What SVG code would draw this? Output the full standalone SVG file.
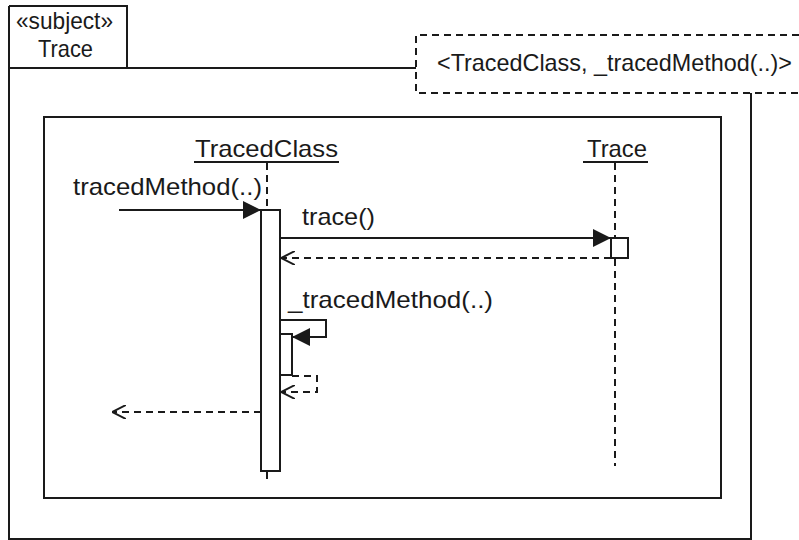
<svg xmlns="http://www.w3.org/2000/svg" width="799" height="540" viewBox="0 0 799 540">
  <style>
    .ln { fill: none; stroke: #1a1a1a; stroke-width: 2; }
    .dash { fill: none; stroke: #1a1a1a; stroke-width: 2; stroke-dasharray: 7 5; }
    .box { fill: #ffffff; stroke: #1a1a1a; stroke-width: 2; }
    .txt { font-family: "Liberation Sans", Arial, sans-serif; font-size: 24px; fill: #1a1a1a; }
  </style>
  <defs>
    <!-- synchronous call: filled triangle -->
    <marker id="filled" viewBox="0 0 10 10" refX="10" refY="5" markerWidth="18" markerHeight="18" markerUnits="userSpaceOnUse" orient="auto">
      <path d="M0,0 L10,5 L0,10 Z" fill="#1a1a1a"/>
    </marker>
    <!-- reply: open chevron -->
    <marker id="open" viewBox="0 0 10 10" refX="10" refY="5" markerWidth="14" markerHeight="14" markerUnits="userSpaceOnUse" orient="auto">
      <path d="M0,0 L10,5 L0,10" fill="none" stroke="#1a1a1a" stroke-width="1.4"/>
    </marker>
  </defs>

  <rect width="799" height="540" fill="#ffffff"/>

  <!-- package frame with name tab -->
  <g id="package-trace">
    <path class="ln" d="M9,6 H127 V68"/>
    <path class="ln" d="M9,6 V539 H751 V93"/>
    <path class="ln" d="M9,68 H416"/>
    <text class="txt" x="16" y="29" textLength="97" lengthAdjust="spacingAndGlyphs" font-size="21">«subject»</text>
    <text class="txt" x="38" y="57" textLength="55" lengthAdjust="spacingAndGlyphs">Trace</text>
  </g>

  <!-- template parameter box -->
  <g id="template-params">
    <path class="dash" d="M799,35 H416 V93 H799"/>
    <text class="txt" x="437" y="71" textLength="355" lengthAdjust="spacingAndGlyphs">&lt;TracedClass, _tracedMethod(..)&gt;</text>
  </g>

  <!-- interaction frame -->
  <g id="interaction">
    <rect class="ln" x="44" y="117" width="677" height="381"/>
  </g>

  <!-- lifeline TracedClass -->
  <g id="lifeline-tracedclass">
    <text class="txt" x="195" y="157" textLength="143" lengthAdjust="spacingAndGlyphs">TracedClass</text>
    <line class="ln" x1="194" y1="162" x2="339" y2="162"/>
    <line class="dash" x1="267" y1="163" x2="267" y2="210"/>
    <line class="dash" x1="267" y1="472" x2="267" y2="483"/>
    <rect class="box" x="261" y="210" width="19" height="261"/>
    <rect class="box" x="280" y="334" width="12" height="41"/>
  </g>

  <!-- lifeline Trace -->
  <g id="lifeline-trace">
    <text class="txt" x="587" y="157" textLength="60" lengthAdjust="spacingAndGlyphs">Trace</text>
    <line class="ln" x1="583" y1="162" x2="648" y2="162"/>
    <line class="dash" x1="615" y1="163" x2="615" y2="466"/>
    <rect class="box" x="611" y="238" width="17" height="20"/>
  </g>

  <!-- messages -->
  <g id="connectors">
    <line class="ln" x1="119" y1="210" x2="261" y2="210" marker-end="url(#filled)"/>
    <line class="ln" x1="280" y1="238" x2="611" y2="238" marker-end="url(#filled)"/>
    <line class="dash" x1="611" y1="258" x2="281" y2="258" marker-end="url(#open)"/>
    <path class="ln" d="M280,320 H326 V337 H292" marker-end="url(#filled)"/>
    <path class="dash" d="M292,376 H317 V392 H281" marker-end="url(#open)"/>
    <line class="dash" x1="261" y1="412" x2="112" y2="412" marker-end="url(#open)"/>
  </g>

  <!-- message labels -->
  <g id="labels">
    <text class="txt" x="73" y="195" textLength="189" lengthAdjust="spacingAndGlyphs">tracedMethod(..)</text>
    <text class="txt" x="302" y="225" textLength="73" lengthAdjust="spacingAndGlyphs">trace()</text>
    <text class="txt" x="288" y="308" textLength="205" lengthAdjust="spacingAndGlyphs">_tracedMethod(..)</text>
  </g>
</svg>
